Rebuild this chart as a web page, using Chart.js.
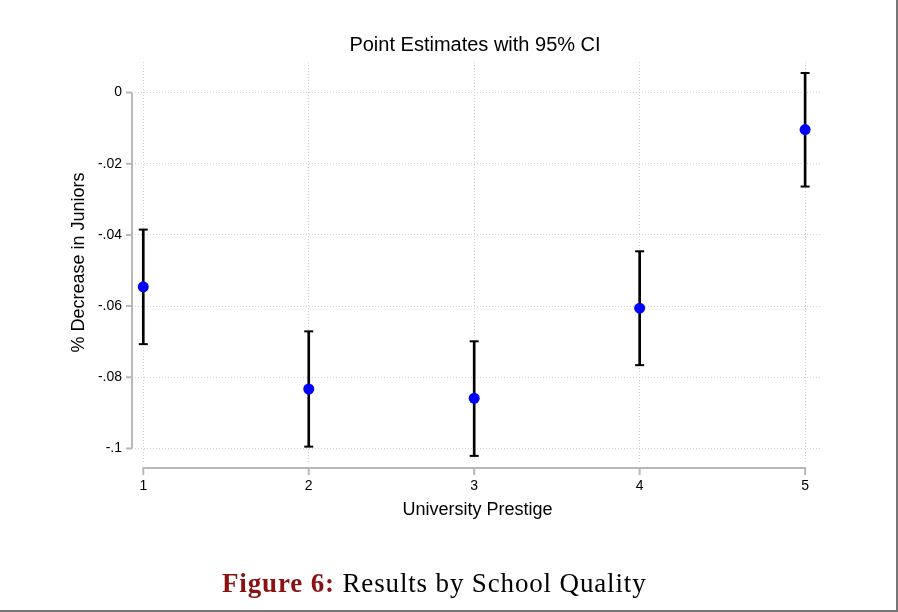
<!DOCTYPE html>
<html>
<head>
<meta charset="utf-8">
<script src="https://cdn.jsdelivr.net/npm/chart.js@4.4.1/dist/chart.umd.min.js"></script>
<style>
  body { margin: 0; background: #fff; }
  #wrap { position: relative; width: 898px; height: 612px; overflow: hidden; }
  #frame { position: absolute; left: 0; top: 0; width: 896px; height: 610px;
           border-right: 2px solid #767676; border-bottom: 2px solid #767676; }
  #caption { position: absolute; left: 222px; top: 570px; line-height: 27px;
             font-family: "Liberation Serif", "DejaVu Serif", serif; font-size: 27px;
             letter-spacing: 0.85px; color: #000; white-space: nowrap; }
  #caption b { color: #8a1212; }
</style>
</head>
<body>
<div id="wrap">
  <canvas id="ciChart" width="898" height="612"></canvas>
  <div id="frame"></div>
  <div id="caption"><b>Figure 6:</b> Results by School Quality</div>
</div>
<script>
// data
const prestige = [1, 2, 3, 4, 5];
const estimates = [-0.0546, -0.0833, -0.0859, -0.0606, -0.0104];
const ciLower = [-0.0707, -0.0995, -0.1021, -0.0766, -0.0264];
const ciUpper = [-0.0385, -0.0671, -0.0699, -0.0446, 0.0055];

const yTickValues = [0, -0.02, -0.04, -0.06, -0.08, -0.1];
const yTickLabels = ['0', '-.02', '-.04', '-.06', '-.08', '-.1'];
const xTickValues = [1, 2, 3, 4, 5];

const FONT = '"Liberation Sans", Arial, Helvetica, sans-serif';

// stata-like offset axis lines, drawn from the scales
const offsetAxes = {
  id: 'offsetAxes',
  afterDraw(chart) {
    const ctx = chart.ctx;
    const area = chart.chartArea;
    const xs = chart.scales.x;
    const ys = chart.scales.y;
    ctx.save();
    ctx.strokeStyle = '#b8b8b8';
    ctx.lineWidth = 2;

    // y axis
    const ax = area.left - 3;
    ctx.beginPath();
    ctx.moveTo(ax, ys.getPixelForValue(yTickValues[0]));
    ctx.lineTo(ax, ys.getPixelForValue(yTickValues[yTickValues.length - 1]));
    yTickValues.forEach(v => {
      const py = ys.getPixelForValue(v);
      ctx.moveTo(ax, py);
      ctx.lineTo(ax - 6, py);
    });
    ctx.stroke();

    // x axis
    const ay = area.bottom + 5;
    ctx.beginPath();
    ctx.moveTo(xs.getPixelForValue(xTickValues[0]) - 1, ay);
    ctx.lineTo(xs.getPixelForValue(xTickValues[xTickValues.length - 1]) + 1, ay);
    xTickValues.forEach(v => {
      const px = xs.getPixelForValue(v);
      ctx.moveTo(px, ay);
      ctx.lineTo(px, ay + 7);
    });
    ctx.stroke();
    ctx.restore();
  }
};

const ctx = document.getElementById('ciChart').getContext('2d');
new Chart(ctx, {
  type: 'bar',
  data: {
    datasets: [
      {
        type: 'scatter',
        label: 'Estimate',
        data: prestige.map((x, i) => ({ x: x, y: estimates[i] })),
        backgroundColor: '#0000ff',
        borderColor: '#0000ff',
        borderWidth: 0,
        pointRadius: 5.5,
        order: 0
      },
      {
        type: 'scatter',
        label: 'caps',
        data: prestige.flatMap((x, i) => [{ x: x, y: ciUpper[i] }, { x: x, y: ciLower[i] }]),
        pointStyle: 'line',
        pointRadius: 4.5,
        borderColor: '#000',
        borderWidth: 2,
        order: 1
      },
      {
        type: 'bar',
        label: '95% CI',
        data: prestige.map((x, i) => ({ x: x, y: [ciLower[i], ciUpper[i]] })),
        backgroundColor: '#000',
        borderWidth: 0,
        barThickness: 2,
        order: 2
      }
    ]
  },
  options: {
    responsive: false,
    animation: false,
    layout: { padding: { left: 52, right: 0, top: 0, bottom: 89 } },
    plugins: {
      legend: { display: false },
      tooltip: { enabled: false },
      title: {
        display: true,
        text: 'Point Estimates with 95% CI',
        color: '#000',
        font: { family: FONT, size: 20, weight: 'normal' },
        padding: { top: 33, bottom: 5 }
      }
    },
    scales: {
      x: {
        type: 'linear',
        min: 0.95,
        max: 5.09,
        offset: false,
        afterBuildTicks: s => { s.ticks = xTickValues.map(v => ({ value: v })); },
        afterFit: s => { s.height = 60; },
        ticks: {
          color: '#000',
          padding: 15,
          font: { family: FONT, size: 14 },
          callback: v => String(v)
        },
        grid: { offset: false, drawTicks: false, color: '#d2d2d2', lineWidth: 1 },
        border: { display: false, dash: [1, 2] },
        title: {
          display: true,
          text: 'University Prestige',
          color: '#000',
          font: { family: FONT, size: 18 },
          padding: { top: 0, bottom: 2 }
        }
      },
      y: {
        type: 'linear',
        min: -0.1041,
        max: 0.0086,
        afterBuildTicks: s => { s.ticks = yTickValues.map(v => ({ value: v })); },
        afterFit: s => { s.width = 83; },
        ticks: {
          color: '#000',
          padding: 13,
          font: { family: FONT, size: 14 },
          callback: (v, i) => yTickLabels[i]
        },
        grid: { drawTicks: false, color: '#d2d2d2', lineWidth: 1 },
        border: { display: false, dash: [1, 2] },
        title: {
          display: true,
          text: '% Decrease in Juniors',
          color: '#000',
          font: { family: FONT, size: 18 },
          padding: { top: 16, bottom: 0 }
        }
      },
      // empty right-hand margin so the title centres over the plot like the original
      yRight: {
        type: 'linear',
        position: 'right',
        display: true,
        afterFit: s => { s.width = 78; },
        ticks: { display: false },
        grid: { display: false, drawTicks: false },
        border: { display: false }
      }
    }
  },
  plugins: [offsetAxes]
});
</script>
</body>
</html>
